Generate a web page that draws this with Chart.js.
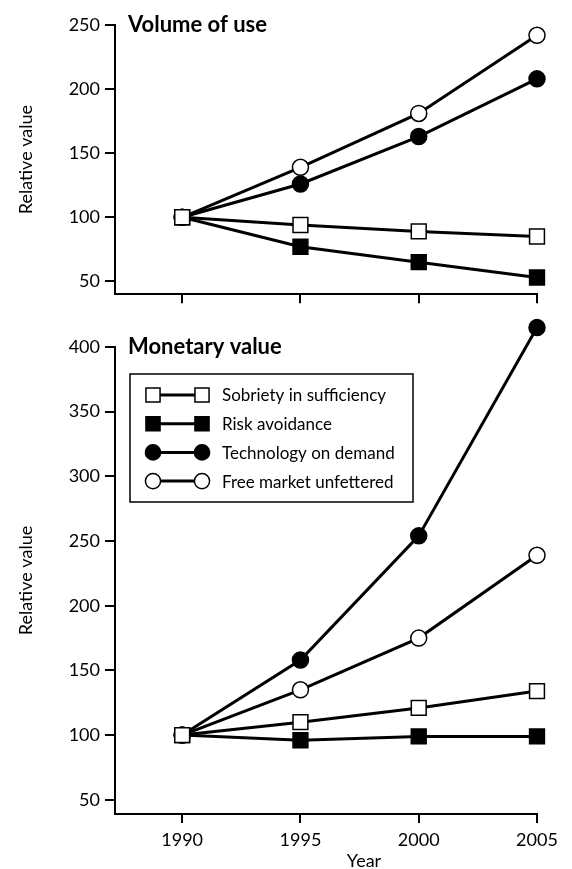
<html lang="en">
<head>
<meta charset="UTF-8">
<title>Volume of use and monetary value</title>
<style>
    body {
        margin: 0;
        background: #ffffff;
        width: 572px;
        height: 869px;
        overflow: hidden;
        position: relative;
    }
    #topBox { position: absolute; left: 0; top: 0; width: 572px; height: 310px; }
    #bottomBox { position: absolute; left: 0; top: 310px; width: 572px; height: 559px; }
</style>
</head>
<body>
<div id="topBox"><canvas id="volumeChart"></canvas></div>
<div id="bottomBox"><canvas id="moneyChart"></canvas></div>

<script src="https://cdn.jsdelivr.net/npm/chart.js"></script>
<script>
    // data
    const years = [1990, 1995, 2000, 2005];
    const seriesNames = ["Sobriety in sufficiency", "Risk avoidance", "Technology on demand", "Free market unfettered"];

    const volSobriety = [100, 94, 89, 85];
    const volRisk = [100, 77, 65, 53];
    const volTech = [100, 126, 163, 208];
    const volFree = [100, 139, 181, 242];

    const monSobriety = [100, 110, 121, 134];
    const monRisk = [100, 96, 99, 99];
    const monTech = [100, 158, 254, 415];
    const monFree = [100, 135, 175, 239];

    const volTicks = [50, 100, 150, 200, 250];
    const monTicks = [50, 100, 150, 200, 250, 300, 350, 400];
    const yearTicks = [1990, 1995, 2000, 2005];

    const FONT = "Lato, 'Open Sans', sans-serif";

    // marker look per series: [pointStyle, fill, radius]
    const markers = [
        ['rect', '#ffffff', 10.5],
        ['rect', '#000000', 10.5],
        ['circle', '#000000', 8],
        ['circle', '#ffffff', 8]
    ];

    function makeDatasets(lists) {
        return lists.map((vals, i) => ({
            label: seriesNames[i],
            data: vals.map((v, j) => ({ x: years[j], y: v })),
            borderColor: '#000',
            borderWidth: 3,
            pointStyle: markers[i][0],
            pointBackgroundColor: markers[i][1],
            pointBorderColor: '#000',
            pointBorderWidth: 1.5,
            pointRadius: markers[i][2],
            pointHoverRadius: markers[i][2],
            tension: 0,
            clip: false
        }));
    }

    function makeScales(yMin, yMax, yTickList, showYearLabels, xHeight) {
        return {
            x: {
                type: 'linear',
                min: 1987.16,
                max: 2005,
                afterBuildTicks: s => { s.ticks = yearTicks.map(v => ({ value: v })); },
                afterFit: s => { s.height = xHeight; },
                border: { display: true, color: '#000', width: 2 },
                grid: { drawOnChartArea: false, drawTicks: true, tickLength: 9, color: '#000', lineWidth: 2 },
                ticks: {
                    display: showYearLabels,
                    color: '#000',
                    padding: 6,
                    maxRotation: 0,
                    font: { family: FONT, size: 18 },
                    callback: v => String(v)
                }
            },
            y: {
                min: yMin,
                max: yMax,
                afterBuildTicks: s => { s.ticks = yTickList.map(v => ({ value: v })); },
                afterFit: s => { s.width = 115; },
                border: { display: true, color: '#000', width: 2 },
                grid: { drawOnChartArea: false, drawTicks: true, tickLength: 10, color: '#000', lineWidth: 2 },
                ticks: { color: '#000', padding: 5, font: { family: FONT, size: 18 } },
                title: {
                    display: true,
                    text: 'Relative value',
                    color: '#000',
                    padding: { top: 15, bottom: 0 },
                    font: { family: FONT, size: 18 }
                }
            }
        };
    }

    // let markers that sit just past the top of the axis still be drawn
    const roomForMarkers = {
        id: 'roomForMarkers',
        beforeDatasetsDraw(chart) {
            chart._savedTop = chart.chartArea.top;
            chart.chartArea.top -= 40;
        },
        afterDatasetsDraw(chart) {
            chart.chartArea.top = chart._savedTop;
        }
    };

    // heading in the top-left corner of the plot, plus optional extras
    const panelText = {
        id: 'panelText',
        afterDraw(chart, args, opts) {
            const ctx = chart.ctx;
            const area = chart.chartArea;
            ctx.save();
            ctx.fillStyle = '#000';
            ctx.textBaseline = 'middle';
            ctx.textAlign = 'left';
            ctx.font = 'bold 22px ' + FONT;
            ctx.fillText(opts.heading, area.left + 13, area.top);
            if (opts.xTitle) {
                ctx.font = '18px ' + FONT;
                ctx.textAlign = 'center';
                ctx.fillText(opts.xTitle, opts.xTitleX, opts.xTitleY);
            }
            ctx.restore();
        }
    };

    // boxed legend with marker-line-marker samples
    const boxLegend = {
        id: 'boxLegend',
        afterDraw(chart, args, opts) {
            if (!opts.show) return;
            const ctx = chart.ctx;
            ctx.save();
            ctx.strokeStyle = '#000';
            ctx.lineWidth = 1.5;
            ctx.strokeRect(opts.left, opts.top, opts.width, opts.height);
            chart.data.datasets.forEach((ds, i) => {
                const y = opts.top + 21 + i * 28.7;
                const x1 = opts.left + 23, x2 = opts.left + 72;
                ctx.strokeStyle = '#000';
                ctx.lineWidth = 3;
                ctx.beginPath();
                ctx.moveTo(x1, y);
                ctx.lineTo(x2, y);
                ctx.stroke();
                [x1, x2].forEach(x => {
                    ctx.fillStyle = ds.pointBackgroundColor;
                    ctx.strokeStyle = '#000';
                    ctx.lineWidth = 1.5;
                    Chart.helpers.drawPoint(ctx, {
                        pointStyle: ds.pointStyle,
                        radius: ds.pointRadius * 0.95,
                        rotation: 0,
                        borderWidth: 1.5
                    }, x, y);
                });
                ctx.fillStyle = '#000';
                ctx.font = '17px ' + FONT;
                ctx.textAlign = 'left';
                ctx.textBaseline = 'middle';
                ctx.fillText(ds.label, opts.left + 92, y + 1);
            });
            ctx.restore();
        }
    };

    new Chart(document.getElementById('volumeChart').getContext('2d'), {
        type: 'line',
        data: { datasets: makeDatasets([volSobriety, volRisk, volTech, volFree]) },
        options: {
            responsive: true,
            maintainAspectRatio: false,
            animation: false,
            layout: { padding: { top: 25, right: 35, left: 0, bottom: 0 } },
            scales: makeScales(40, 250, volTicks, false, 14),
            plugins: {
                legend: { display: false },
                tooltip: { enabled: false },
                panelText: { heading: 'Volume of use' },
                boxLegend: { show: false }
            }
        },
        plugins: [roomForMarkers, panelText, boxLegend]
    });

    new Chart(document.getElementById('moneyChart').getContext('2d'), {
        type: 'line',
        data: { datasets: makeDatasets([monSobriety, monRisk, monTech, monFree]) },
        options: {
            responsive: true,
            maintainAspectRatio: false,
            animation: false,
            layout: { padding: { top: 37, right: 35, left: 0, bottom: 0 } },
            scales: makeScales(39, 400, monTicks, true, 55),
            plugins: {
                legend: { display: false },
                tooltip: { enabled: false },
                panelText: { heading: 'Monetary value', xTitle: 'Year', xTitleX: 364, xTitleY: 551 },
                boxLegend: { show: true, left: 130, top: 64, width: 283, height: 128 }
            }
        },
        plugins: [roomForMarkers, panelText, boxLegend]
    });
</script>
</body>
</html>
